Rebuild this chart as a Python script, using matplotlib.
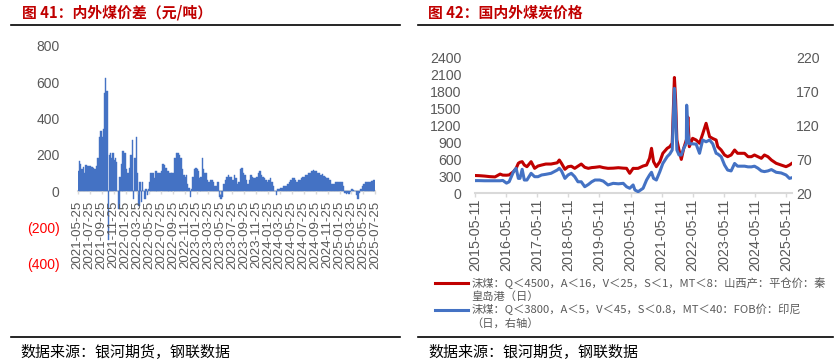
import numpy as np
import pandas as pd
import matplotlib
matplotlib.use('Agg')
import matplotlib.pyplot as plt
from matplotlib.lines import Line2D

CJK = ['Noto Sans CJK SC', 'DejaVu Sans']
NUM = 'Liberation Sans'
GRAY = '#595959'
AXIS = '#D9D9D9'
RED = '#C00000'
BLUE = '#4472C4'

# ---------------- Left chart data: domestic-foreign coal price spread (yuan/t)
# one inner list per month, month k starting at 2021-05-25 + k months
diff_start = '2021-05-25'
diff_2021 = [[110, 165, 150, 120, 135], [100, 145, 140, 140], [140, 135, 125, 120],
             [140, 180, 300, 330], [300, 340, 540, 620, 550], [-270, 200, 210, 180, 210],
             [170, 180, 160, 0, -100], [80, 150, 220, 210]]
diff_2022 = [[120, 100, 130, 200], [280, -40, 180, 300], [100, -80, 50, -60, 50],
             [0, -40, 10, -20, 10], [50, 100, 100, 70], [110, 100, 100, 100],
             [110, 150, 145, 130], [110, 100, 100, 100], [100, 180, 210, 210],
             [200, 180, 120, 90], [80, 90, 40, 20, -30], [10, 80, 120, 130]]
diff_2023 = [[120, 110, 70, 80, 180], [120, 100, 100, 60], [50, 60, 60, 50],
             [30, 30, 50, -30], [-40, -30, 40, 60], [80, 90, 80, 80],
             [60, 90, 70, 40], [50, 120, 130, 100], [90, 60, 40, 60],
             [90, 80, 70, 75], [80, 100, 110, 90], [80, 70, 60, 50]]
diff_2024 = [[60, 70, 50, 30], [0, -20, 10, 15], [20, 20, 30, 30],
             [30, 40, 50, 60], [70, 70, 60, 50], [60, 60, 70, 80],
             [80, 90, 90, 100], [100, 110, 115, 110], [110, 100, 100, 90],
             [95, 85, 80, 70], [70, 60, 40, 40], [40, 50, 50, 50]]
diff_2025 = [[50, 50, 30, -10], [-15, -10, -15, -5], [10, 5, 0, -20],
             [-40, -10, 10, 30], [40, 50, 50, 50], [50, 55, 55, 60]]
diff_yticks = [-400, -200, 0, 200, 400, 600, 800]

# ---------------- Right chart data
price_dates = ['2015-05-11', '2015-07-01', '2015-09-01', '2015-11-01', '2016-01-01',
               '2016-03-01', '2016-04-01', '2016-05-15', '2016-06-15', '2016-08-05',
               '2016-09-05', '2016-10-01', '2016-10-20', '2016-11-15', '2016-12-10',
               '2017-01-10', '2017-02-28', '2017-04-10', '2017-05-20', '2017-07-01',
               '2017-08-20', '2017-10-20', '2018-01-01', '2018-01-25', '2018-02-20',
               '2018-04-01', '2018-05-08', '2018-06-15', '2018-07-25', '2018-09-01',
               '2018-10-10', '2018-11-20', '2019-01-01', '2019-02-10', '2019-03-20',
               '2019-05-15', '2019-06-25', '2019-08-20', '2019-10-20', '2019-12-20',
               '2020-02-15', '2020-03-25', '2020-05-01', '2020-06-10', '2020-07-01',
               '2020-08-08', '2020-10-05', '2020-11-15', '2020-12-20', '2021-01-12',
               '2021-02-05', '2021-03-10', '2021-04-20', '2021-05-25', '2021-07-15',
               '2021-08-15', '2021-09-12', '2021-10-08', '2021-10-22', '2021-11-06',
               '2021-12-01', '2021-12-28', '2022-01-25', '2022-02-25', '2022-03-01',
               '2022-03-15', '2022-04-01', '2022-05-10', '2022-06-20', '2022-07-30',
               '2022-09-05', '2022-10-15', '2022-11-25', '2023-01-01', '2023-02-10',
               '2023-03-01', '2023-04-10', '2023-05-20', '2023-06-25', '2023-08-05',
               '2023-09-15', '2023-10-20', '2023-12-01', '2024-01-10', '2024-02-20',
               '2024-03-30', '2024-05-05', '2024-06-15', '2024-07-25', '2024-08-30',
               '2024-10-10', '2024-11-20', '2025-01-15', '2025-03-15', '2025-05-11',
               '2025-06-20', '2025-07-20']
qhd_price = [315, 312, 305, 295, 290, 340, 322, 320, 325, 383,
             442, 531, 550, 560, 500, 471, 560, 442, 483, 500,
             518, 518, 540, 589, 530, 425, 471, 480, 442, 480,
             518, 460, 442, 455, 460, 471, 455, 442, 445, 453,
             445, 442, 354, 442, 440, 442, 483, 500, 619, 796,
             560, 471, 560, 708, 796, 825, 885, 2050, 1651, 943,
             766, 600, 796, 943, 943, 1350, 825, 973, 943, 885,
             1050, 1239, 1002, 970, 943, 825, 766, 678, 648, 678,
             766, 708, 708, 708, 648, 648, 678, 648, 619, 678,
             648, 589, 531, 500, 471, 500, 531]
indo_fob = [38.7, 38.7, 38.5, 38.5, 38.5, 38.5, 39, 35, 37, 51.8,
            56.9, 42, 42, 55.4, 39.6, 39.6, 49.5, 44.5, 44.5, 47,
            48, 49.5, 54.3, 56.9, 53, 42, 47, 49.5, 44.5, 37,
            37, 29.7, 33, 37, 39.6, 39.6, 38, 32.3, 34.7, 34,
            34.7, 29.7, 27.4, 32.3, 24.9, 22.4, 27.4, 39.6, 47, 51,
            42, 39.6, 52, 64, 74, 78, 83.8, 174.8, 138, 83.8,
            76.5, 76.5, 86, 93.7, 150, 110, 93, 93, 92.5, 79,
            98.6, 96, 98.6, 93, 79, 78, 74, 61.7, 54.3, 53,
            64, 60, 60, 60, 59, 59, 60, 57, 53, 52,
            53, 55, 51, 50, 47, 42, 43]
price_xticks = ['2015-05-11', '2016-05-11', '2017-05-11', '2018-05-11', '2019-05-11',
                '2020-05-11', '2021-05-11', '2022-05-11', '2023-05-11', '2024-05-11',
                '2025-05-11']
left_yticks = [0, 300, 600, 900, 1200, 1500, 1800, 2100, 2400]
right_yticks = [20, 70, 120, 170, 220]

legend_red = ['沫煤：Q＜4500，A＜16，V＜25，S＜1，MT＜8：山西产：平仓价：秦', '皇岛港（日）']
legend_blue = ['沫煤：Q＜3800，A＜5，V＜45，S＜0.8，MT＜40：FOB价：印尼', '（日，右轴）']

# ---------------- figure
W, H = 837, 364
fig = plt.figure(figsize=(W / 100, H / 100), dpi=100)


def box(l, t, r, b):
    return [l / W, 1 - b / H, (r - l) / W, (b - t) / H]


def fx(x):
    return x / W


def fy(y):
    return 1 - y / H


# titles, rules, sources
fig.text(fx(22), fy(13), '图 41：内外煤价差（元/吨）', family=CJK, fontsize=10.7,
         fontweight='bold', color=RED, va='center', ha='left')
fig.text(fx(428), fy(13), '图 42：国内外煤炭价格', family=CJK, fontsize=10.7,
         fontweight='bold', color=RED, va='center', ha='left')
for (x0, x1) in [(11, 400), (418, 833)]:
    fig.add_artist(Line2D([fx(x0), fx(x1)], [fy(25), fy(25)], color='black', lw=1.2))
    fig.add_artist(Line2D([fx(x0), fx(x1)], [fy(337), fy(337)], color='black', lw=1.2))
fig.text(fx(20), fy(352), '数据来源：银河期货，钢联数据', family=CJK, fontsize=10.8,
         color='black', va='center', ha='left')
fig.text(fx(428), fy(352), '数据来源：银河期货，钢联数据', family=CJK, fontsize=10.8,
         color='black', va='center', ha='left')

# ---------------- left chart
ax1 = fig.add_axes(box(77.7, 45.7, 375, 264))
for s in ['left', 'top', 'right']:
    ax1.spines[s].set_visible(False)
ax1.spines['bottom'].set_position(('data', 0))
ax1.spines['bottom'].set_color(AXIS)
ax1.spines['bottom'].set_linewidth(1.5)
ax1.spines['bottom'].set_zorder(0.5)

months = diff_2021 + diff_2022 + diff_2023 + diff_2024 + diff_2025
base = pd.Timestamp(diff_start)
bx, bw, bv = [], [], []
for k, vals in enumerate(months):
    s = base + pd.DateOffset(months=k)
    e = base + pd.DateOffset(months=k + 1)
    step = (e - s) / len(vals)
    for i, v in enumerate(vals):
        bx.append(s + step * (i + 0.5))
        bw.append(step / pd.Timedelta(days=1))
        bv.append(v)
ax1.bar(bx, bv, width=np.array(bw) * 1.05, color=BLUE, edgecolor=BLUE, linewidth=0.3)
ax1.set_ylim(-400, 800)
ax1.set_xlim(base, base + pd.DateOffset(months=len(months)))
ax1.set_yticks(diff_yticks)
ax1.set_yticklabels([f'({-v})' if v < 0 else f'{v}' for v in diff_yticks])
for lab, v in zip(ax1.get_yticklabels(), diff_yticks):
    lab.set_color('red' if v < 0 else GRAY)
    lab.set_family(NUM)
    lab.set_fontsize(10)
xt = [base + pd.DateOffset(months=2 * k) for k in range(len(months) // 2 + 1)]
ax1.set_xticks(xt)
ax1.set_xticklabels([d.strftime('%Y-%m-%d') for d in xt], rotation=90,
                    family=NUM, fontsize=9.6, color=GRAY, va='top')
ax1.tick_params(axis='x', direction='out', length=2.5, width=1, color=AXIS, pad=4.5)
ax1.tick_params(axis='y', length=0, pad=13)
ax1.patch.set_alpha(0)

# ---------------- right chart
ax2 = fig.add_axes(box(475, 57.7, 792, 193.3))
d = pd.to_datetime(price_dates)
ax2.plot(d, qhd_price, color=RED, lw=2.2, solid_joinstyle='round')
ax2.set_ylim(0, 2400)
ax2.set_xlim(pd.Timestamp('2015-05-11'), pd.Timestamp('2025-07-20'))
ax2.set_yticks(left_yticks)
ax2.set_yticklabels([str(v) for v in left_yticks], family=NUM, fontsize=10.2, color=GRAY)
xt2 = pd.to_datetime(price_xticks)
ax2.set_xticks(xt2)
ax2.set_xticklabels(price_xticks, rotation=90, family=NUM, fontsize=10.4, color=GRAY, va='top')
ax3 = ax2.twinx()
ax3.plot(d, indo_fob, color=BLUE, lw=2.2, solid_joinstyle='round')
ax3.set_ylim(20, 220)
ax3.set_yticks(right_yticks)
ax3.set_yticklabels([str(v) for v in right_yticks], family=NUM, fontsize=10.2, color=GRAY)
for a in (ax2, ax3):
    for s in ['left', 'top', 'right']:
        a.spines[s].set_visible(False)
    a.spines['bottom'].set_color(AXIS)
    a.spines['bottom'].set_linewidth(1.5)
ax3.spines['bottom'].set_visible(False)
ax2.tick_params(axis='x', direction='out', length=3, width=1, color=AXIS, pad=1)
ax2.tick_params(axis='y', length=0, pad=9.6)
ax3.tick_params(axis='y', length=0, pad=3)

# legend (drawn manually to keep the wrapped layout)
fig.add_artist(Line2D([fx(435), fx(468)], [fy(283), fy(283)], color=RED, lw=2.2))
fig.add_artist(Line2D([fx(435), fx(468)], [fy(309.5), fy(309.5)], color=BLUE, lw=2.2))
for txt, y in [(legend_red[0], 283), (legend_red[1], 296.5),
               (legend_blue[0], 309.5), (legend_blue[1], 323)]:
    fig.text(fx(471.5), fy(y), txt, family=CJK, fontsize=8.1, color=GRAY,
             va='center', ha='left')

fig.savefig('out.png', dpi=100)
